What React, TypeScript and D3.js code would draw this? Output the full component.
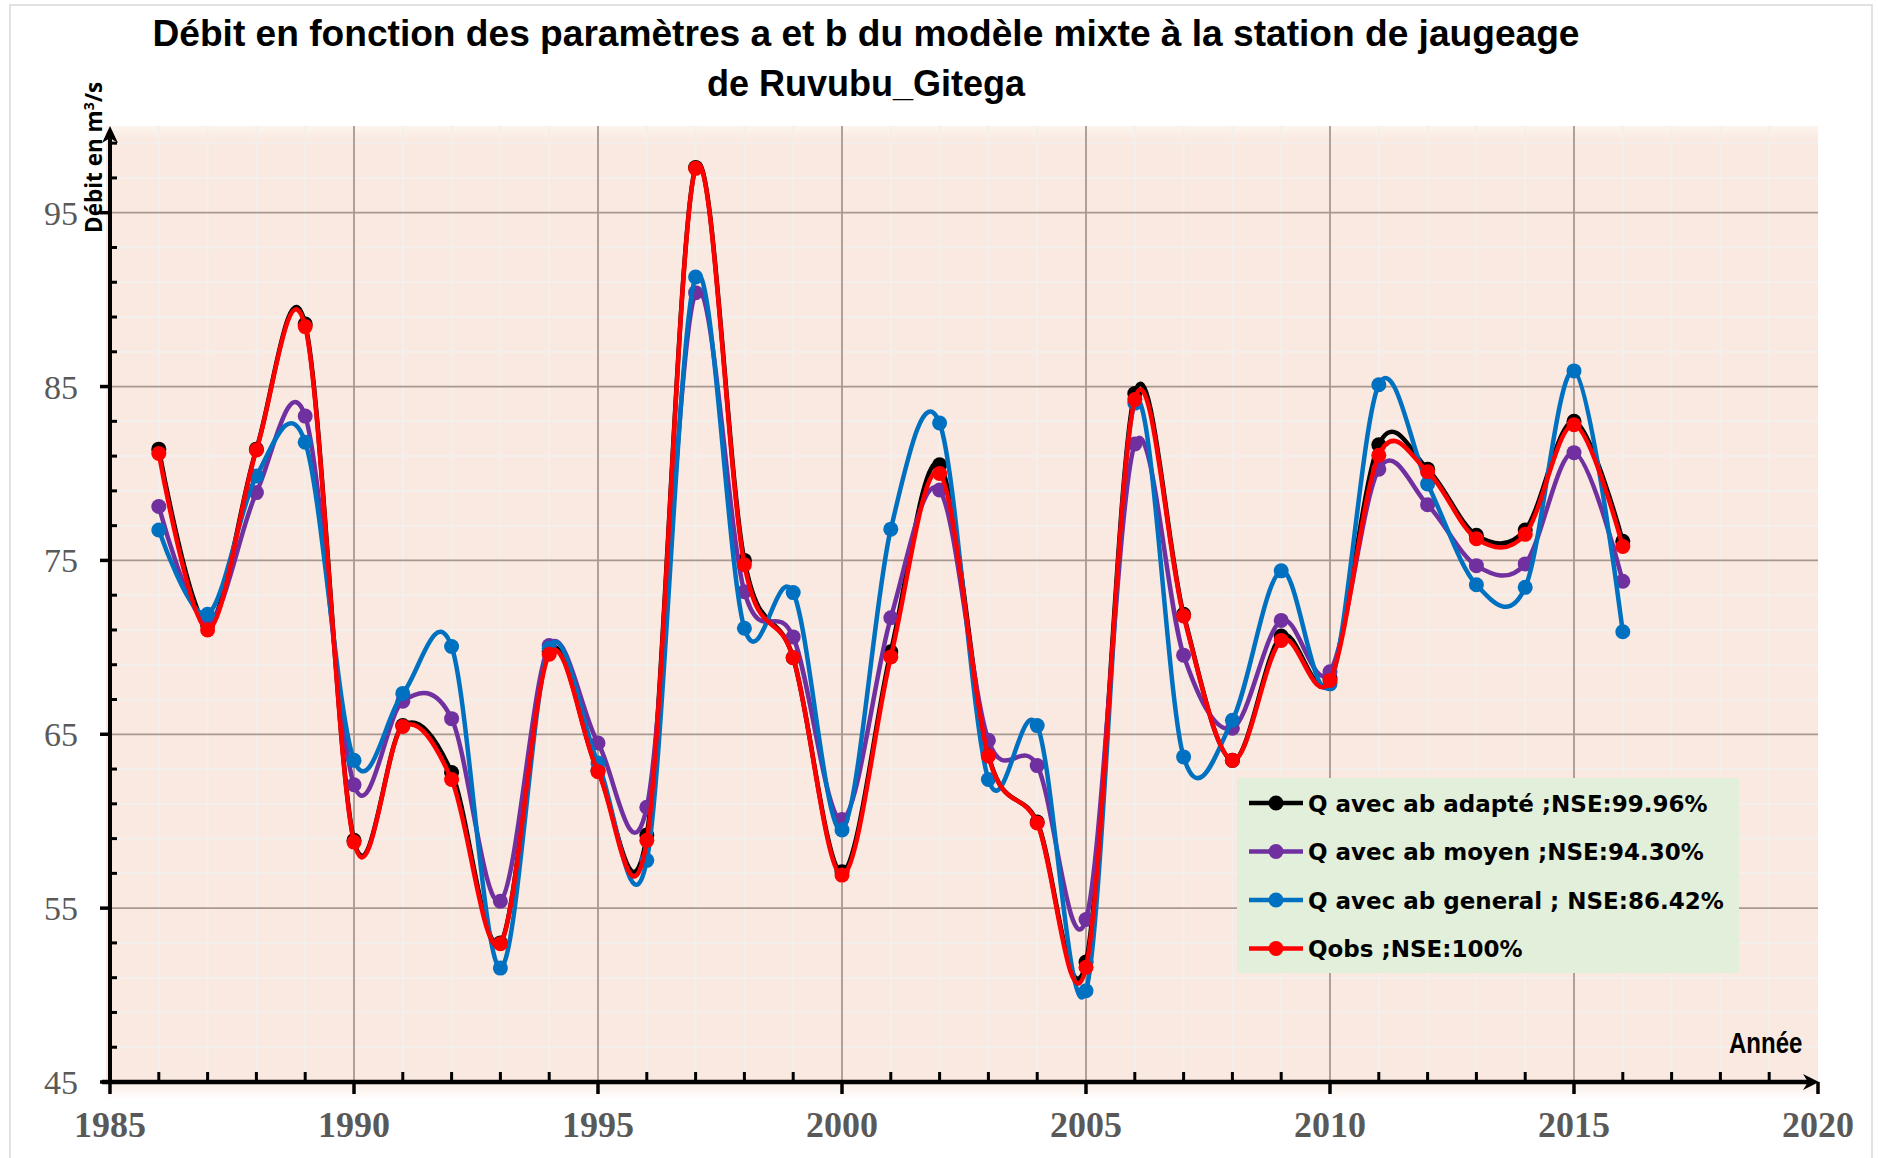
import React from 'react';
import * as d3 from 'd3';

const years = [1986, 1987, 1988, 1989, 1990, 1991, 1992, 1993, 1994, 1995, 1996, 1997, 1998, 1999, 2000, 2001, 2002, 2003, 2004, 2005, 2006, 2007, 2008, 2009, 2010, 2011, 2012, 2013, 2014, 2015, 2016];

const qAdapte = [81.4, 71.3, 81.4, 88.6, 58.9, 65.5, 62.8, 53.0, 69.75, 62.9, 59.2, 97.6, 75.0, 69.4, 57.1, 69.75, 80.5, 63.8, 59.95, 51.9, 84.6, 71.9, 63.5, 70.65, 68.2, 81.65, 80.25, 76.45, 76.75, 83.0, 76.1];
const qMoyen = [78.1, 71.4, 78.9, 83.3, 62.1, 66.9, 65.9, 55.4, 70.1, 64.5, 60.8, 90.4, 73.2, 70.6, 60.1, 71.7, 79.05, 64.65, 63.2, 54.35, 81.7, 69.55, 65.35, 71.55, 68.6, 80.25, 78.2, 74.7, 74.8, 81.2, 73.8];
const qGeneral = [76.75, 71.9, 79.85, 81.8, 63.5, 67.35, 70.05, 51.55, 69.95, 63.35, 57.75, 91.3, 71.1, 73.15, 59.5, 76.8, 82.9, 62.4, 65.5, 50.25, 84.05, 63.7, 65.8, 74.4, 67.9, 85.1, 79.4, 73.6, 73.45, 85.9, 70.9];
const qObs = [81.15, 71.0, 81.35, 88.45, 58.8, 65.45, 62.4, 52.95, 69.6, 62.85, 58.9, 97.55, 74.75, 69.4, 56.9, 69.45, 80.0, 63.75, 59.9, 51.6, 84.25, 71.8, 63.5, 70.4, 68.1, 81.05, 80.1, 76.25, 76.5, 82.8, 75.8];

const seriesNames = [
  'Q avec ab adapté ;NSE:99.96%',
  'Q avec ab moyen ;NSE:94.30%',
  'Q avec ab general ; NSE:86.42%',
  'Qobs ;NSE:100%',
];
const seriesColors = ['#000000', '#7030A0', '#0070C0', '#FF0000'];
const seriesValues = [qAdapte, qMoyen, qGeneral, qObs];

const yMajorTicks = [45, 55, 65, 75, 85, 95];
const yMinorTicks = [47, 49, 51, 53, 57, 59, 61, 63, 67, 69, 71, 73, 77, 79, 81, 83, 87, 89, 91, 93, 97, 99];
const xMajorTicks = [1985, 1990, 1995, 2000, 2005, 2010, 2015, 2020];
const xMinorTicks = [1986, 1987, 1988, 1989, 1991, 1992, 1993, 1994, 1996, 1997, 1998, 1999, 2001, 2002, 2003, 2004, 2006, 2007, 2008, 2009, 2011, 2012, 2013, 2014, 2016, 2017, 2018, 2019];

const titleLines = ['Débit en fonction des paramètres a et b du modèle mixte à la station de jaugeage', 'de Ruvubu_Gitega'];

export default function App() {
  const W = 1878;
  const H = 1158;
  const left = 110;
  const right = 1818;
  const top = 126;
  const axisY = 1082;
  const x = d3.scaleLinear().domain([1985, 2020]).range([left, right]);
  const y = d3.scaleLinear().domain([45, 95]).range([axisY, 212.7]);
  const line = d3
    .line<number>()
    .x((_, i) => x(years[i]))
    .y((d) => y(d))
    .curve(d3.curveCardinal.tension(0));

  const majorGrid = '#a8988f';
  const minorGrid = '#f3efec';
  const legX = 1237;
  const legY = 778;
  const legRow = 48.5;

  return (
    <svg width={W} height={H} style={{ position: 'absolute', left: 0, top: 0 }} xmlns="http://www.w3.org/2000/svg">
      <defs>
        <linearGradient id="bg" x1="0" y1="0" x2="0" y2="1">
          <stop offset="0" stopColor="#fdf4ef" />
          <stop offset="0.015" stopColor="#f9e9e0" />
          <stop offset="0.978" stopColor="#f9e9e0" />
          <stop offset="1" stopColor="#ffffff" />
        </linearGradient>
      </defs>
      <rect x={0} y={0} width={W} height={H} fill="#ffffff" />
      <rect x={10} y={5} width={1862} height={1170} fill="none" stroke="#d9d9d9" strokeWidth={1.5} />

      {/* title */}
      <text x={866} y={46} textAnchor="middle" textLength={1427} lengthAdjust="spacingAndGlyphs" fontFamily="'Liberation Sans', Arial, sans-serif" fontWeight="bold" fontSize={36} fill="#000">
        {titleLines[0]}
      </text>
      <text x={866} y={96} textAnchor="middle" fontFamily="'Liberation Sans', Arial, sans-serif" fontWeight="bold" fontSize={36} fill="#000">
        {titleLines[1]}
      </text>

      {/* plot background */}
      <rect x={106} y={top} width={right - 106} height={1100 - top} fill="url(#bg)" />

      {/* minor grid */}
      {yMinorTicks.map((v) => (
        <line key={'hy' + v} x1={left} x2={right} y1={y(v)} y2={y(v)} stroke={minorGrid} strokeWidth={2} />
      ))}
      {xMinorTicks.map((v) => (
        <line key={'vx' + v} x1={x(v)} x2={x(v)} y1={top} y2={axisY} stroke={minorGrid} strokeWidth={2} />
      ))}
      {/* major grid */}
      {yMajorTicks.slice(1).map((v) => (
        <line key={'Hy' + v} x1={left} x2={right} y1={y(v)} y2={y(v)} stroke={majorGrid} strokeWidth={1.8} />
      ))}
      {xMajorTicks.slice(1, -1).map((v) => (
        <line key={'Vx' + v} x1={x(v)} x2={x(v)} y1={top} y2={axisY} stroke={majorGrid} strokeWidth={1.8} />
      ))}

      {/* series */}
      {seriesValues.map((vals, si) => (
        <g key={'s' + si}>
          <path d={line(vals) || ''} fill="none" stroke={seriesColors[si]} strokeWidth={4.5} strokeLinejoin="round" />
          {vals.map((v, i) => (
            <circle key={i} cx={x(years[i])} cy={y(v)} r={7.5} fill={seriesColors[si]} />
          ))}
        </g>
      ))}

      {/* y axis */}
      <line x1={left} x2={left} y1={axisY + 2} y2={136} stroke="#000" strokeWidth={4} />
      <path d={`M${left},126 L${left - 8},143 L${left},138 L${left + 8},143 Z`} fill="#000" />
      {yMajorTicks.map((v) => (
        <line key={'yt' + v} x1={left - 10} x2={left} y1={y(v)} y2={y(v)} stroke="#000" strokeWidth={3.5} />
      ))}
      {yMinorTicks.map((v) => (
        <line key={'ymt' + v} x1={left} x2={left + 7} y1={y(v)} y2={y(v)} stroke="#000" strokeWidth={3} />
      ))}
      {yMajorTicks.map((v) => (
        <text key={'yl' + v} x={78} y={y(v) + 12} textAnchor="end" fontFamily="'Liberation Serif', 'Times New Roman', serif" fontSize={34} fill="#595959">
          {v}
        </text>
      ))}

      {/* x axis */}
      <line x1={102} x2={right - 8} y1={axisY} y2={axisY} stroke="#000" strokeWidth={4.5} />
      <path d={`M${right + 1},${axisY} L${right - 15},${axisY - 8} L${right - 10},${axisY} L${right - 15},${axisY + 8} Z`} fill="#000" />
      {xMajorTicks.map((v) => (
        <line key={'xt' + v} x1={x(v)} x2={x(v)} y1={axisY} y2={axisY + 12} stroke="#000" strokeWidth={3.5} />
      ))}
      {xMinorTicks.map((v) => (
        <line key={'xmt' + v} x1={x(v)} x2={x(v)} y1={axisY - 10} y2={axisY} stroke="#000" strokeWidth={3} />
      ))}
      {xMajorTicks.map((v) => (
        <text key={'xl' + v} x={x(v)} y={1137} textAnchor="middle" fontFamily="'Liberation Serif', 'Times New Roman', serif" fontWeight="bold" fontSize={36} fill="#595959">
          {v}
        </text>
      ))}

      {/* axis titles */}
      <text transform="translate(102,233) rotate(-90)" fontFamily="'Open Sans', 'Liberation Sans', sans-serif" fontWeight="bold" fontSize={22.5} fill="#000">
        Débit en m<tspan fontSize={14} dy={-8}>3</tspan>
        <tspan dy={8}>/s</tspan>
      </text>
      <text transform="translate(1729,1053) scale(0.8,1)" fontFamily="'Liberation Sans', Arial, sans-serif" fontWeight="bold" fontSize={30} fill="#000">
        Année
      </text>

      {/* legend */}
      <rect x={legX} y={legY} width={502} height={195} fill="#e2efda" />
      {seriesNames.map((name, i) => {
        const cy = legY + 25 + i * legRow;
        return (
          <g key={'lg' + i}>
            <line x1={legX + 12} x2={legX + 66} y1={cy} y2={cy} stroke={seriesColors[i]} strokeWidth={4.5} />
            <circle cx={legX + 39} cy={cy} r={7.5} fill={seriesColors[i]} />
            <text x={legX + 71} y={cy + 8.5} fontFamily="'DejaVu Sans', Verdana, sans-serif" fontWeight="bold" fontSize={23} fill="#000">
              {name}
            </text>
          </g>
        );
      })}
    </svg>
  );
}
